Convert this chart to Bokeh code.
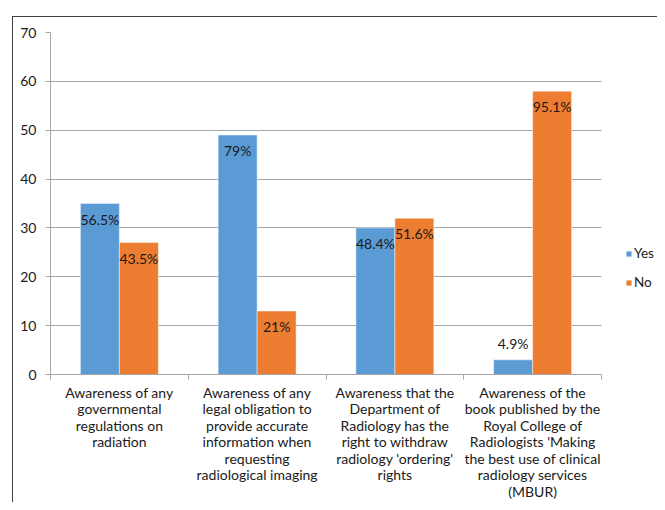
import numpy as np
from bokeh.plotting import figure
from bokeh.models import (ColumnDataSource, FixedTicker, Legend, LegendItem, Range1d,
                          InlineStyleSheet)
from bokeh.core.properties import value
from bokeh.embed import file_html
from bokeh.resources import INLINE

categories = [
    "Awareness of any\ngovernmental\nregulations on\nradiation",
    "Awareness of any\nlegal obligation to\nprovide accurate\ninformation when\nrequesting\nradiological imaging",
    "Awareness that the\nDepartment of\nRadiology has the\nright to withdraw\nradiology 'ordering'\nrights",
    "Awareness of the\nbook published by the\nRoyal College of\nRadiologists 'Making\nthe best use of clinical\nradiology services\n(MBUR)",
]
yes_values = [35, 49, 30, 3]
no_values = [27, 13, 32, 58]
yes_labels = ["56.5%", "79%", "48.4%", "4.9%"]
no_labels = ["43.5%", "21%", "51.6%", "95.1%"]
y_ticks = [0, 10, 20, 30, 40, 50, 60, 70]

FONT = "Lato"
BLUE = "#5B9BD5"
ORANGE = "#ED7D31"
TXT = "#1a1a1a"
GRID = "#a6a6a6"

n = len(categories)
centers = np.arange(n) + 0.5
bw = 0.283

W, H = 657, 502
LEFT, TOP, BOTTOM = 50, 32, 128
plot_px = 551                       # width of the category area
frame_px = W - LEFT                 # frame extends to the right edge (legend lives there)
x_end = n * frame_px / plot_px

p = figure(width=W, height=H, output_backend="svg", toolbar_location=None,
           x_range=Range1d(0, x_end), y_range=Range1d(0, 70),
           min_border_left=LEFT, min_border_right=0, min_border_top=TOP,
           min_border_bottom=BOTTOM)
p.outline_line_color = None
p.background_fill_color = "white"
p.border_fill_color = "white"
p.stylesheets = [InlineStyleSheet(css="""
:host::after { content: ""; position: absolute; left: 12px; top: 16px; right: 0; bottom: 0;
  border-left: 1px solid #404040; border-top: 1px solid #404040; pointer-events: none; z-index: 5; }
""")]

src_yes = ColumnDataSource(dict(x=centers - bw / 2, top=yes_values))
src_no = ColumnDataSource(dict(x=centers + bw / 2, top=no_values))

# horizontal gridlines limited to the category area
p.xgrid.grid_line_color = None
try:
    p.ygrid.cross_bounds = (0, n)
    p.ygrid.ticker = FixedTicker(ticks=y_ticks)
    p.ygrid.grid_line_color = GRID
except Exception:
    p.ygrid.grid_line_color = None
    p.segment(x0=[0] * len(y_ticks), x1=[n] * len(y_ticks), y0=y_ticks, y1=y_ticks,
              line_color=GRID, line_width=1)

r_yes = p.vbar(x="x", top="top", width=bw, source=src_yes, fill_color=BLUE,
               line_color="white", line_alpha=0.45, line_width=1)
r_no = p.vbar(x="x", top="top", width=bw, source=src_no, fill_color=ORANGE,
              line_color="white", line_alpha=0.45, line_width=1)

# data labels (inside end; outside end for the very short bar)
big = [i for i in range(n) if yes_values[i] > 5]
small = [i for i in range(n) if yes_values[i] <= 5]
inside_yes = ColumnDataSource(dict(x=[centers[i] - bw / 2 for i in big],
                                   y=[yes_values[i] for i in big],
                                   t=[yes_labels[i] for i in big]))
outside_yes = ColumnDataSource(dict(x=[centers[i] - bw / 2 for i in small],
                                    y=[yes_values[i] for i in small],
                                    t=[yes_labels[i] for i in small]))
inside_no = ColumnDataSource(dict(x=centers + bw / 2, y=no_values, t=no_labels))
for s in (inside_yes, inside_no):
    p.text(x="x", y="y", text="t", source=s, text_align="center", text_baseline="top",
           y_offset=7, text_font=value(FONT), text_font_size="14px", text_color=TXT)
p.text(x="x", y="y", text="t", source=outside_yes, text_align="center", text_baseline="bottom",
       y_offset=-8, text_font=value(FONT), text_font_size="14px", text_color=TXT)

# y axis
p.yaxis.ticker = FixedTicker(ticks=y_ticks)
p.yaxis.axis_line_color = GRID
p.yaxis.major_tick_line_color = GRID
p.yaxis.major_tick_out = 5
p.yaxis.major_tick_in = 0
p.yaxis.minor_tick_line_color = None
p.yaxis.major_label_text_font = FONT
p.yaxis.major_label_text_font_size = "14px"
p.yaxis.major_label_text_color = TXT
p.yaxis.major_label_standoff = 9

# x axis: labels at category centres, ticks at category boundaries
p.xaxis.bounds = (0, n)
p.xaxis.ticker = FixedTicker(ticks=list(centers), minor_ticks=list(range(n + 1)))
p.xaxis.major_label_overrides = {float(c): lab for c, lab in zip(centers, categories)}
p.xaxis.axis_line_color = GRID
p.xaxis.major_tick_line_color = None
p.xaxis.major_tick_out = 0
p.xaxis.major_tick_in = 0
p.xaxis.minor_tick_line_color = GRID
p.xaxis.minor_tick_out = 5
p.xaxis.minor_tick_in = 0
p.xaxis.major_label_standoff = 4
p.xaxis.major_label_text_font = FONT
p.xaxis.major_label_text_font_size = "14px"
p.xaxis.major_label_text_color = TXT
p.xaxis.major_label_text_line_height = 0.975

legend = Legend(items=[LegendItem(label="Yes", renderers=[r_yes]),
                       LegendItem(label="No", renderers=[r_no])],
                location=(575, 82), glyph_width=7, glyph_height=7, label_height=20,
                spacing=9, padding=0, margin=0, label_standoff=2,
                label_text_font=FONT, label_text_font_size="13.5px", label_text_color=TXT,
                border_line_color=None, background_fill_alpha=0)
p.add_layout(legend)

open("out.html", "w").write(file_html(p, INLINE))
